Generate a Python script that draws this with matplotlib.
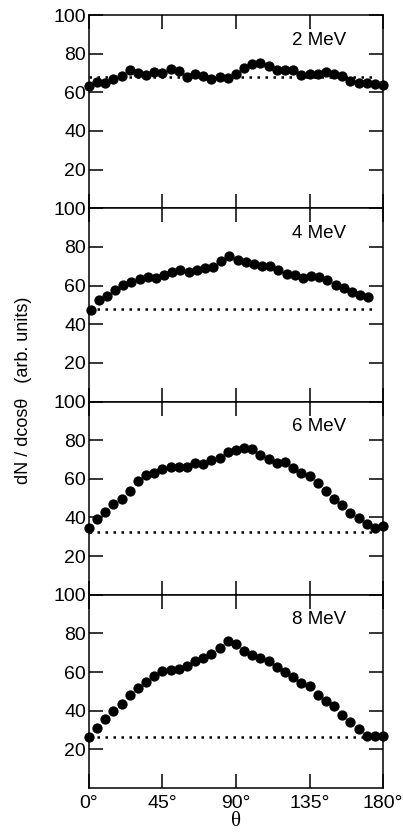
import numpy as np
import matplotlib
matplotlib.use("Agg")
import matplotlib.pyplot as plt

plt.rcParams['font.family'] = ['Liberation Sans', 'DejaVu Sans']

# angles (deg) of the measured points
theta_full = [0, 5, 10, 15, 20, 25, 30, 35, 40, 45, 50, 55, 60, 65, 70, 75, 80, 85, 90,
              95, 100, 105, 110, 115, 120, 125, 130, 135, 140, 145, 150, 155, 160, 165,
              170, 175, 180]
theta_4mev = [1, 6, 11, 16, 21, 26, 31, 36, 41, 46, 51, 56, 61, 66, 71, 76, 81, 86, 91,
              96, 101, 106, 111, 116, 121, 126, 131, 136, 141, 146, 151, 156, 161, 166, 171]

y_2mev = [63.4, 65.3, 64.6, 66.7, 68.5, 71.4, 69.9, 69.0, 70.7, 69.9, 72.2, 70.9, 67.8,
          69.4, 68.2, 66.8, 68.0, 67.3, 69.4, 72.7, 74.8, 75.3, 73.8, 71.4, 71.6, 71.6,
          69.0, 69.5, 69.7, 70.7, 69.7, 68.2, 66.0, 64.8, 64.8, 64.3, 64.0]
y_4mev = [47.3, 52.6, 54.7, 57.9, 60.1, 61.8, 63.2, 64.2, 64.0, 65.4, 67.2, 68.1, 67.1,
          68.1, 69.3, 69.8, 72.5, 75.2, 73.2, 72.0, 71.3, 70.1, 70.1, 68.1, 66.1, 65.4,
          64.0, 64.7, 64.2, 62.7, 60.1, 58.9, 56.7, 55.0, 54.3]
y_6mev = [34.7, 39.3, 42.6, 46.8, 49.4, 53.7, 59.1, 62.2, 63.0, 65.0, 66.3, 66.3, 66.3,
          68.2, 67.7, 69.8, 71.0, 73.8, 75.0, 75.8, 75.2, 72.4, 70.3, 68.4, 68.6, 65.8,
          63.2, 61.3, 57.7, 53.7, 49.6, 46.3, 42.1, 39.7, 36.7, 34.8, 35.5]
y_8mev = [26.4, 31.0, 35.5, 39.7, 43.5, 48.2, 51.5, 55.0, 57.7, 60.3, 61.0, 61.6, 63.0,
          65.6, 67.1, 69.2, 72.5, 76.0, 74.6, 71.1, 69.0, 67.3, 65.6, 62.4, 59.8, 57.2,
          54.3, 52.7, 48.3, 45.0, 42.4, 37.7, 34.3, 30.4, 27.1, 27.1, 26.9]

labels = ["2 MeV", "4 MeV", "6 MeV", "8 MeV"]
baselines = [67.8, 48.0, 32.6, 26.3]
series = [(theta_full, y_2mev), (theta_4mev, y_4mev), (theta_full, y_6mev), (theta_full, y_8mev)]

xticks = [0, 45, 90, 135, 180]
xticklabels = ["0°", "45°", "90°", "135°", "180°"]
yticks = [20, 40, 60, 80, 100]

fig = plt.figure(figsize=(4.03, 8.35), dpi=100)
left, right, top, bottom = 0.2208, 0.9504, 0.982, 0.0563
h = (top - bottom) / 4

axes = []
for i in range(4):
    ax = fig.add_axes([left, top - (i + 1) * h, right - left, h])
    x, y = series[i]
    ax.plot([0, 176], [baselines[i], baselines[i]], color='black',
            linestyle=(0, (1, 2.2)), linewidth=1.8, zorder=1)
    ax.plot(x, y, 'o', color='black', markersize=6.4, zorder=2, clip_on=False)
    ax.set_xlim(0, 180)
    ax.set_ylim(0, 100)
    ax.set_yticks(yticks)
    ax.set_xticks(xticks)
    ax.tick_params(direction='in', length=10, width=1.1, top=True, right=True,
                   labelsize=14, pad=2)
    ax.tick_params(axis='x', pad=5)
    if i < 3:
        ax.set_xticklabels([])
    else:
        ax.set_xticklabels(xticklabels)
    for sp in ax.spines.values():
        sp.set_linewidth(1.1)
    ax.text(0.69, 0.87, labels[i], transform=ax.transAxes, fontsize=13.5,
            ha='left', va='center')
    axes.append(ax)

axes[-1].set_xlabel("θ", fontsize=15, labelpad=0, family=['Liberation Serif', 'DejaVu Serif'])
fig.text(24 / 403, 1 - 390 / 835, "dN / dcosθ   (arb. units)", rotation=90,
         ha='center', va='center', fontsize=13)

plt.savefig("out.png", dpi=100)
